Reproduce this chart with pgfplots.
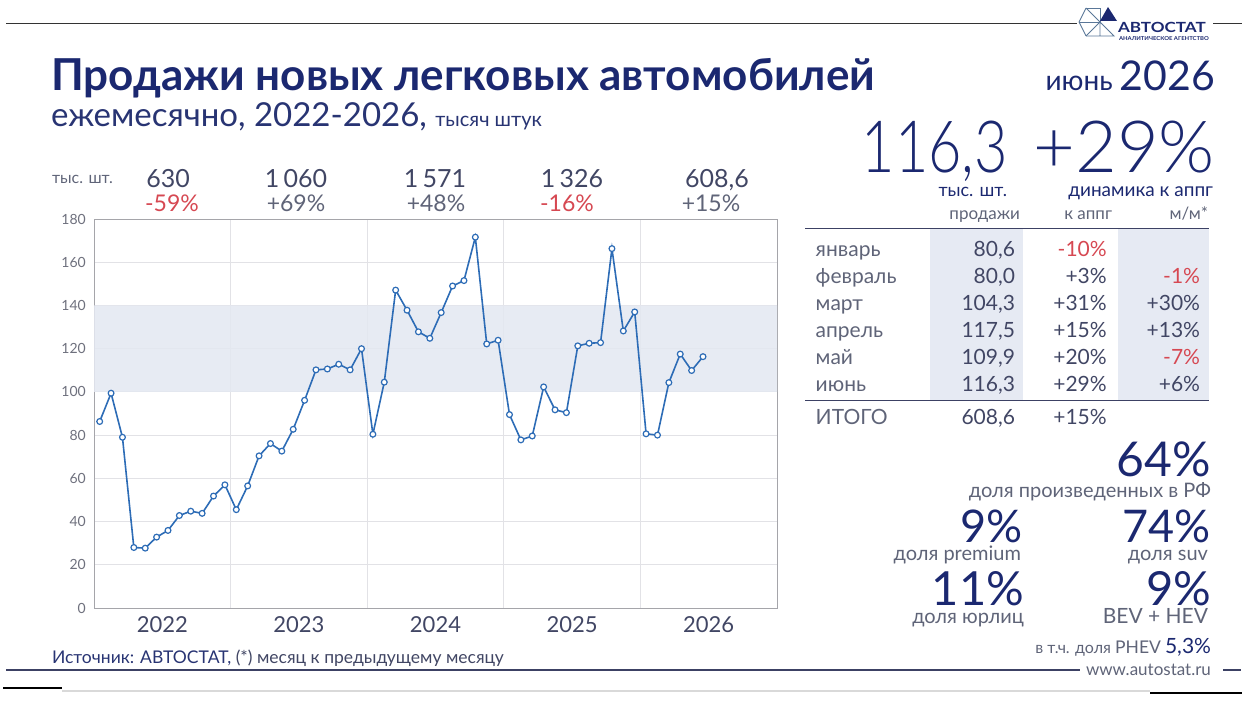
\documentclass[border=0pt]{standalone}
\usepackage{pgfplots}
\pgfplotsset{compat=1.18}
\usepackage{fontspec}
\setmainfont{Lato}
\newfontfamily\lt{Lato}
\IfFontExistsTF{Lato Light}{\newfontfamily\lite{Lato Light}}{\newfontfamily\lite{Lato}}
\newcommand\fs[1]{\fontsize{#1}{#1}\selectfont}
\definecolor{navy}{RGB}{27,40,112}
\definecolor{snavy}{RGB}{40,52,115}
\definecolor{txt}{RGB}{65,70,100}
\definecolor{gtxt}{RGB}{95,100,120}
\definecolor{ytxt}{RGB}{110,112,125}
\definecolor{myred}{RGB}{214,72,82}
\definecolor{lineblue}{RGB}{45,108,182}
\definecolor{band}{RGB}{228,232,241}
\definecolor{colband}{RGB}{230,234,243}
\definecolor{gridgray}{RGB}{226,226,230}
\definecolor{axisgray}{RGB}{165,165,170}
\definecolor{rule}{RGB}{60,65,100}
\pgfplotstableread{
i v
0 86.3
1 99.4
2 79.0
3 28.0
4 27.7
5 32.8
6 35.9
7 42.8
8 44.8
9 43.8
10 51.8
11 57.0
12 45.5
13 56.5
14 70.4
15 76.1
16 72.6
17 82.7
18 96.1
19 110.2
20 110.6
21 112.8
22 110.2
23 120.0
24 80.4
25 104.5
26 147.1
27 137.8
28 127.8
29 124.8
30 136.7
31 149.0
32 151.5
33 171.6
34 122.2
35 123.9
36 89.5
37 77.8
38 79.6
39 102.3
40 91.7
41 90.4
42 121.3
43 122.5
44 122.8
45 166.3
46 128.2
47 137.0
48 80.6
49 80.0
50 104.3
51 117.5
52 109.9
53 116.3
}\sales
\begin{document}
\begin{tikzpicture}
\path[use as bounding box] (0pt,0pt) rectangle (1247pt,-701pt);
\begin{axis}[
  at={(94pt,-608pt)}, anchor=south west,
  scale only axis, width=683pt, height=389pt,
  xmin=-0.5, xmax=59.5, ymin=0, ymax=180,
  ytick={0,20,...,180},
  xtick={5.5,17.5,29.5,41.5,53.5},
  xticklabels={2022,2023,2024,2025,2026},
  minor xtick={11.5,23.5,35.5,47.5},
  xminorgrids, ymajorgrids,
  major tick length=0pt, minor tick length=0pt,
  axis line style={draw=axisgray, line width=0.9pt},
  major grid style={draw=gridgray, line width=0.8pt},
  minor grid style={draw=gridgray, line width=0.8pt},
  /pgf/number format/assume math mode=true,
  yticklabel style={font=\lt\fs{14}, text=ytxt, anchor=east, inner sep=0pt, xshift=-8pt},
  xticklabel style={font=\lt\fs{22}, text=txt, anchor=north, inner sep=0pt, yshift=-8pt},
]
\addplot[fill=band, draw=none, fill opacity=0.88] coordinates {(-0.5,100) (59.5,100) (59.5,140) (-0.5,140) (-0.5,100)};
\addplot[lineblue, line width=1.6pt, mark=*, mark size=2.9pt,
  mark options={fill=white, draw=lineblue, line width=1.2pt}] table[x=i, y=v] {\sales};
\end{axis}
\begin{scope}[x=1pt,y=-1pt, every node/.style={inner sep=0pt, outer sep=0pt}]
% top lines
\draw[black!80, line width=1pt] (6,24) -- (1077,24);
\draw[black!80, line width=1pt] (1213,24) -- (1242,24);
% logo
\begin{scope}[draw=lineblue!45!gray, line width=0.9pt]
\draw (1086,8) -- (1100,22) -- (1086,36);
\draw (1086,8) -- (1100,8) -- (1100,22);
\draw (1086,36) -- (1114,36) -- (1100,22) -- (1100,36);
\draw (1086,8) -- (1079,22) -- (1086,36);
\draw (1079,22) -- (1100,22);
\fill[navy] (1108,7) -- (1117,21) -- (1100,21) -- cycle;
\end{scope}
\node[anchor=base west, text=navy] at (1118,33) {\scalebox{1.22}[1]{\bfseries\fs{14}АВТОСТАТ}};
\node[anchor=base west, text=navy] at (1119,40.5) {\scalebox{1.1}[1]{\bfseries\fs{5.4}АНАЛИТИЧЕСКОЕ АГЕНТСТВО}};
% title
\node[anchor=base west, text=navy] at (51,90) {\bfseries\fs{44}Продажи новых легковых автомобилей};
\node[anchor=base west, text=snavy] at (51,126) {\lt\fs{33}ежемесячно, 2022-2026, {\fs{20}тысяч штук}};
% year totals
\node[anchor=base west, text=gtxt] at (52,183) {\lt\fs{16}тыс. шт.};
\node[anchor=base, text=txt] at (168,187) {\lt\fs{25}630};
\node[anchor=base, text=myred] at (172,211) {\lt\fs{23}-59\%};
\node[anchor=base, text=txt] at (296,187) {\lt\fs{25}1\,060};
\node[anchor=base, text=gtxt] at (296,211) {\lt\fs{23}+69\%};
\node[anchor=base, text=txt] at (435,187) {\lt\fs{25}1\,571};
\node[anchor=base, text=gtxt] at (436,211) {\lt\fs{23}+48\%};
\node[anchor=base, text=txt] at (572,187) {\lt\fs{25}1\,326};
\node[anchor=base, text=myred] at (567,211) {\lt\fs{23}-16\%};
\node[anchor=base, text=txt] at (717,187) {\lt\fs{25}608,6};
\node[anchor=base, text=gtxt] at (711,211) {\lt\fs{23}+15\%};
% source
\node[anchor=base west, text=snavy] at (52,663) {\fs{17.5}Источник: АВТОСТАТ, {\color{txt}\lt(*) месяц к предыдущему месяцу}};
% bottom lines
\draw[rule, line width=1.2pt] (6,670) -- (1080,670);
\draw[rule, line width=1.2pt] (1223,670) -- (1241,670);
\node[anchor=base west, text=gtxt] at (1086,675) {\lt\fs{17}www.autostat.ru};
\draw[black!15, line width=2pt] (62,691) -- (1150,691);
\draw[black, line width=1.2pt] (3,688) -- (62,688);
\draw[black, line width=1.2pt] (1150,693) -- (1242,693);
% right panel
\node[anchor=base east, text=navy] at (1215,90) {\lt\fs{28}июнь {\fs{41}2026}};
\node[anchor=base east, text=navy] at (1008,172) {\scalebox{0.8}[1]{\lite\fs{72}116,3}};
\node[anchor=base east, text=navy] at (1215,172) {\lite\fs{72}+29\%};
\node[anchor=base east, text=navy] at (1007,196) {\lt\fs{18}тыс. шт.};
\node[anchor=base east, text=navy] at (1213,196) {\lt\fs{19}динамика к аппг};
\node[anchor=base east, text=gtxt] at (1020,219) {\lt\fs{17}продажи};
\node[anchor=base east, text=gtxt] at (1112,219) {\lt\fs{17}к аппг};
\node[anchor=base east, text=gtxt] at (1208,219) {\lt\fs{17}м/м*};
\fill[colband] (930,228) rectangle (1023,400);
\fill[colband] (1118,228) rectangle (1209,400);
\draw[rule, line width=1pt] (805,228) -- (1209,228);
\draw[rule, line width=1pt] (805,400.5) -- (1209,400.5);
\foreach \m/\v/\a/\ac/\b/\bc [count=\k from 0] in {
  январь/{80,6}/-10\%/myred//gtxt,
  февраль/{80,0}/+3\%/txt/-1\%/myred,
  март/{104,3}/+31\%/txt/+30\%/txt,
  апрель/{117,5}/+15\%/txt/+13\%/txt,
  май/{109,9}/+20\%/txt/-7\%/myred,
  июнь/{116,3}/+29\%/txt/+6\%/txt}{
  \pgfmathsetmacro\yy{256.7+27*\k}
  \node[anchor=base west, text=gtxt] at (815.7,\yy) {\lt\fs{21}\m};
  \node[anchor=base east, text=txt] at (1015,\yy) {\lt\fs{21}\v};
  \node[anchor=base east, text=\ac] at (1106.7,\yy) {\lt\fs{21}\a};
  \node[anchor=base east, text=\bc] at (1200,\yy) {\lt\fs{21}\b};
}
\node[anchor=base west, text=gtxt] at (815.7,424) {\lt\fs{21}ИТОГО};
\node[anchor=base east, text=txt] at (1015,424) {\lt\fs{21}608,6};
\node[anchor=base east, text=txt] at (1106.7,424) {\lt\fs{21}+15\%};
% stats
\node[anchor=base east, text=navy] at (1211,476) {\lt\fs{48}64\%};
\node[anchor=base east, text=gtxt] at (1211,497) {\lt\fs{20}доля произведенных в РФ};
\node[anchor=base east, text=navy] at (1023,542) {\lt\fs{45}9\%};
\node[anchor=base east, text=gtxt] at (1021,560) {\lt\fs{20}доля premium};
\node[anchor=base east, text=navy] at (1211,542) {\lt\fs{45}74\%};
\node[anchor=base east, text=gtxt] at (1208,560) {\lt\fs{20}доля suv};
\node[anchor=base east, text=navy] at (1024,605) {\lt\fs{47}11\%};
\node[anchor=base east, text=gtxt] at (1024,623) {\lt\fs{20}доля юрлиц};
\node[anchor=base east, text=navy] at (1211,605) {\lt\fs{47}9\%};
\node[anchor=base east, text=gtxt] at (1208,623) {\lt\fs{21}BEV + HEV};
\node[anchor=base east, text=gtxt] at (1211,653) {\lt\fs{16}в т.ч. доля {\fs{17.5}PHEV} {\color{navy}\fs{21}5,3\%}};
\end{scope}
\end{tikzpicture}
\end{document}
